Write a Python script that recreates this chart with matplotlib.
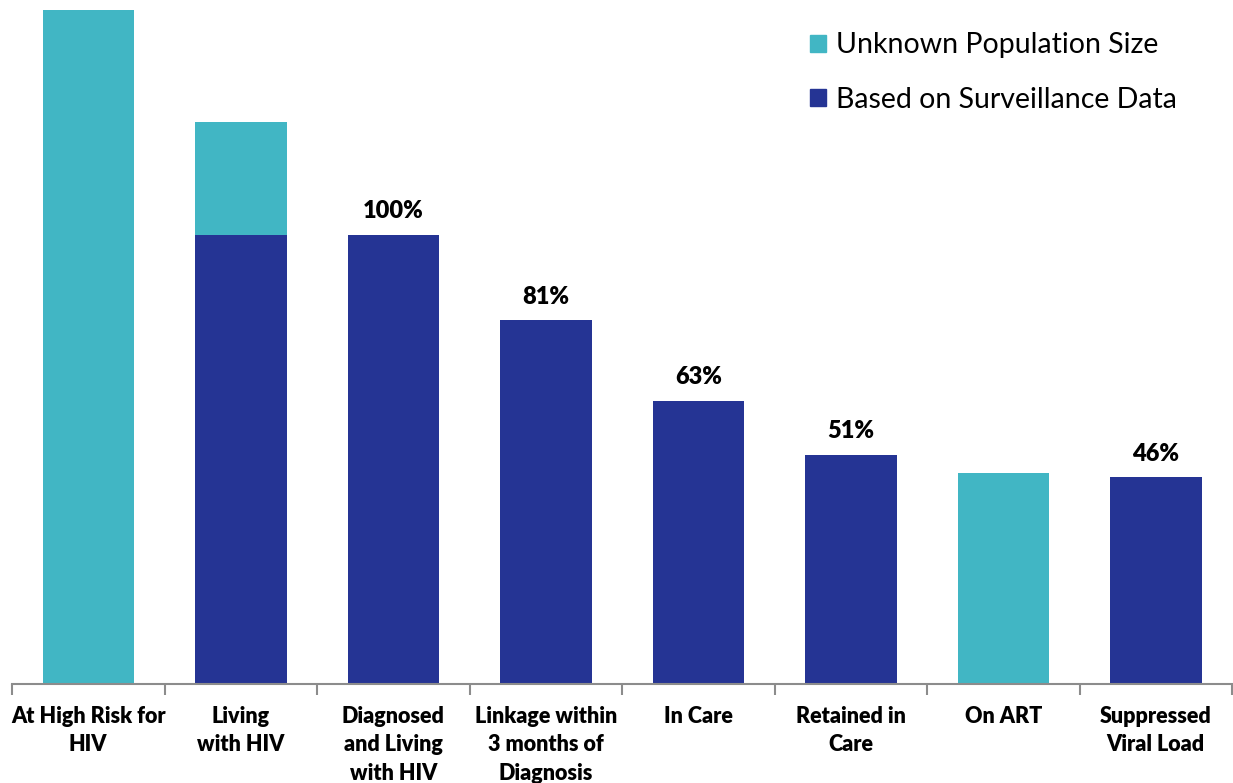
import matplotlib.pyplot as plt
from matplotlib.patches import Patch

# 数据
categories = ['At High Risk for\nHIV', 'Living\nwith HIV', 'Diagnosed\nand Living\nwith HIV',
              'Linkage within\n3 months of\nDiagnosis', 'In Care', 'Retained in\nCare', 'On ART',
              'Suppressed\nViral Load']
surveillance = [0, 100, 100, 81, 63, 51, 0, 46]      # 基于监测数据
unknown = [150, 25, 0, 0, 0, 0, 47, 0]               # 人群规模未知
pct_labels = ['', '', '100%', '81%', '63%', '51%', '', '46%']

teal = '#41B6C4'
navy = '#253494'

plt.rcParams['font.family'] = ['Lato', 'DejaVu Sans']

fig = plt.figure(figsize=(12.33, 7.83), dpi=100)
ax = fig.add_axes([12 / 1233, 99 / 783, 1220 / 1233, 674 / 783])

x = list(range(len(categories)))
ax.bar(x, surveillance, width=0.6, color=navy)
ax.bar(x, unknown, width=0.6, bottom=surveillance, color=teal)

for i, lab in enumerate(pct_labels):
    if lab:
        ax.annotate(lab, (i, surveillance[i] + unknown[i]), xytext=(0, 9),
                    textcoords='offset points', ha='center', va='bottom',
                    fontsize=17, fontweight='heavy')

ax.set_xlim(-0.5, len(categories) - 0.5)
ax.set_ylim(0, 150)
ax.set_yticks([])
for s in ['top', 'right', 'left']:
    ax.spines[s].set_visible(False)
ax.spines['bottom'].set_color('#8c8c8c')
ax.spines['bottom'].set_linewidth(1.5)

ax.set_xticks(x)
ax.set_xticklabels(categories, fontsize=15.5, fontweight='heavy', linespacing=1.42)
ax.tick_params(axis='x', which='major', length=0, pad=16)
ax.set_xticks([i - 0.5 for i in range(len(categories) + 1)], minor=True)
ax.tick_params(axis='x', which='minor', length=8, width=1.5, color='#8c8c8c', direction='out')
for t in ax.get_xticklabels():
    t.set_va('top')

handles = [Patch(color=teal, label='Unknown Population Size'),
           Patch(color=navy, label='Based on Surveillance Data')]
fig.legend(handles=handles, loc='upper left', bbox_to_anchor=(799 / 1233, 1 - 21 / 783),
           frameon=False, fontsize=20.5, handlelength=0.55, handleheight=0.55,
           handletextpad=0.35, labelspacing=1.0, borderaxespad=0)

fig.savefig('out.png', dpi=100)
